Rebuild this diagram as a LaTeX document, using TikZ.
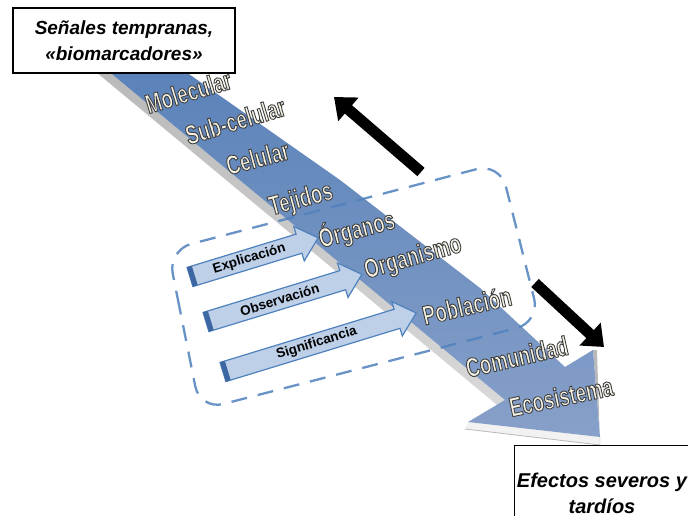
\documentclass[tikz,border=0pt]{standalone}
\usepackage{fontspec}
\setmainfont{Liberation Sans}
\newfontfamily\condfont[FakeStretch=0.7]{Liberation Sans}
\usetikzlibrary{arrows.meta}
\definecolor{shafttop}{HTML}{5A82B9}
\definecolor{shaftmid}{HTML}{4C73AB}
\definecolor{shaftlight}{HTML}{87A0C9}
\definecolor{dashblue}{HTML}{4F81BD}
\definecolor{smallfill}{HTML}{BDD0E8}
\definecolor{tailblue}{HTML}{3D67A3}
\definecolor{labelfill}{HTML}{F5F3E6}
\newcommand\outlined[1]{\special{pdf:literal direct 0.25 0.25 0.25 RG 0.9 w 2 Tr}#1\special{pdf:literal direct 0 Tr}}
\tikzset{
  lvl/.style={font=\condfont\bfseries\fontsize{27}{27}\selectfont, text=labelfill, anchor=base, inner sep=0pt},
  smallarr/.style={fill=smallfill, draw=dashblue, line width=1.2pt, line join=miter},
  smalltxt/.style={font=\bfseries\fontsize{13.5}{13.5}\selectfont, text=black, inner sep=0pt},
  dashbox/.style={draw=dashblue, line width=2.3pt, dash pattern=on 16pt off 11pt, rounded corners=24pt, opacity=0.85},
  blackarrow/.style={draw=black, line width=11pt, -{Triangle[length=19pt,width=30pt]}},
  textbox/.style={draw=black, line width=1.6pt, fill=white, align=center, inner sep=0pt,
    font=\bfseries\itshape\fontsize{19}{25.5}\selectfont}
}
\begin{document}
\begin{tikzpicture}[x=1pt,y=-1pt]
\useasboundingbox (0,0) rectangle (688,516);
\fill[white] (0,0) rectangle (688,516);

% 3D side of the big arrow
\shade[shading angle=51, top color=gray!55, bottom color=gray!30]
  (101,65) -- (505,400) -- (502,409) -- (96,72) -- cycle;
\fill[gray!10] (468,422) -- (600,437) -- (600,445) -- (465,429) -- cycle;
\draw[gray!55, line width=0.8pt] (465,429) -- (600,445);
\fill[gray!55] (593,350) -- (600,437) -- (600,445) -- (597,350) -- cycle;

% big arrow face
\shade[shading angle=51, top color=shafttop, middle color=shaftmid, bottom color=shaftlight]
  (176,65) -- (340,180) -- (480,288) -- (565,367) -- (593,350) -- (600,437)
  -- (468,422) -- (505,400) -- (101,65) -- cycle;

% dashed frame
\draw[dashbox] (184,330) -- (168,250) -- (500,163) -- (540,322) -- (200,410) -- cycle;

% small arrows
\begin{scope}[shift={(190,277)}, rotate=17]
  \filldraw[smallarr] (0,-10) -- (114,-10) -- (114,-18) -- (134,0) -- (114,18) -- (114,10) -- (0,10) -- cycle;
  \fill[tailblue] (0,-10) rectangle (5,10);
  \node[smalltxt, rotate=17] (expl) at (62,0) {Explicación};
\end{scope}
\begin{scope}[shift={(206,322)}, rotate=17]
  \filldraw[smallarr] (0,-10) -- (143,-10) -- (143,-18) -- (163,0) -- (143,18) -- (143,10) -- (0,10) -- cycle;
  \fill[tailblue] (0,-10) rectangle (5,10);
  \node[smalltxt, rotate=17] (obs) at (77,0) {Observación};
\end{scope}
\begin{scope}[shift={(223,372)}, rotate=17]
  \filldraw[smallarr] (0,-10) -- (182,-10) -- (182,-18) -- (202,0) -- (182,18) -- (182,10) -- (0,10) -- cycle;
  \fill[tailblue] (0,-10) rectangle (5,10);
  \node[smalltxt, rotate=17] (sig) at (98,0) {Significancia};
\end{scope}

% level labels
\node[lvl, rotate=17] (l1) at (191,101) {\outlined{Molecular}};
\node[lvl, rotate=17] (l2) at (238,130) {\outlined{Sub-celular}};
\node[lvl, rotate=15] (l3) at (260,167) {\outlined{Celular}};
\node[lvl, rotate=15] (l4) at (303,207) {\outlined{Tejidos}};
\node[lvl, rotate=15] (l5) at (359,238) {\outlined{Órganos}};
\node[lvl, rotate=16] (l6) at (415,265) {\outlined{Organismo}};
\node[lvl, rotate=13] (l7) at (469,315) {\outlined{Población}};
\node[lvl, rotate=13] (l8) at (519,366) {\outlined{Comunidad}};
\node[lvl, rotate=12] (l9) at (563,406) {\outlined{Ecosistema}};

% black arrows
\coordinate (upA) at (421,172);
\coordinate (upB) at (334,97);
\draw[blackarrow] (upA) -- (upB);
\coordinate (dnA) at (535,283);
\coordinate (dnB) at (604,347);
\draw[blackarrow] (dnA) -- (dnB);

% text boxes
\node[textbox, minimum width=222pt, minimum height=65pt] (early) at (124,40.5) {Señales tempranas,\\«biomarcadores»};
\node[textbox, font=\bfseries\itshape\fontsize{20}{26}\selectfont, minimum width=175pt, minimum height=95pt] (late) at (602,493) {Efectos severos y\\tardíos};
\end{tikzpicture}
\end{document}
